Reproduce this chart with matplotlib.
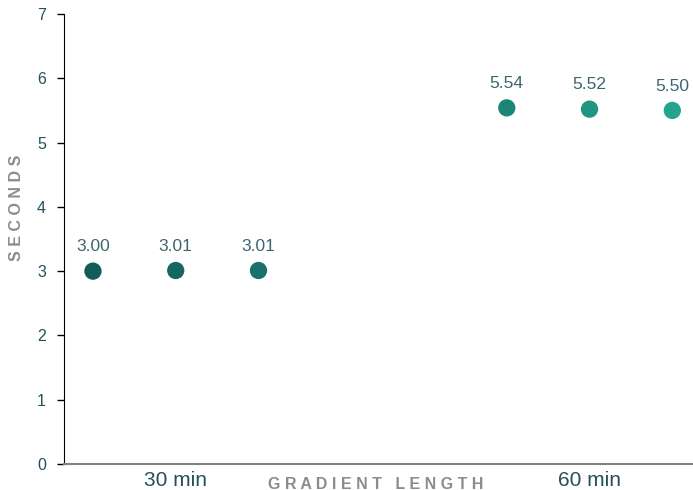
import matplotlib.pyplot as plt

plt.rcParams['font.family'] = ['Liberation Sans', 'DejaVu Sans']

groups = ['30 min', '60 min']
positions = [0, 1, 2, 5, 6, 7]
seconds = [3.00, 3.01, 3.01, 5.54, 5.52, 5.50]
labels = ['3.00', '3.01', '3.01', '5.54', '5.52', '5.50']
colors = ['#135b59', '#166762', '#18716a', '#1c8676', '#209682', '#24a48c']

text_color = '#24505c'
axis_label_color = '#8c8c8c'


def main():
    fig = plt.figure(figsize=(6.93, 4.9), dpi=100)
    ax = fig.add_axes([64 / 693, 26 / 490, 1 - 64 / 693, 450 / 490])

    ax.scatter(positions, seconds, s=155, c=colors, zorder=3, linewidths=0)
    for x, y, t in zip(positions, seconds, labels):
        ax.annotate(t, (x, y), xytext=(0, 12), textcoords='offset points',
                    ha='center', va='bottom', fontsize=12.5, color='#3d6670')

    ax.set_xlim(-0.35, 7.25)
    ax.set_ylim(0, 7)
    ax.set_yticks(range(8))
    ax.set_xticks([1, 6])
    ax.set_xticklabels(groups, fontsize=15, color=text_color)
    ax.tick_params(axis='x', length=0, pad=5)
    ax.tick_params(axis='y', length=5, width=1, labelsize=11.5, colors='black',
                   labelcolor=text_color, pad=8)

    for s in ['top', 'right']:
        ax.spines[s].set_visible(False)
    ax.spines['left'].set_color('black')
    ax.spines['bottom'].set_color('#808080')
    ax.spines['bottom'].set_linewidth(1.5)

    fig.text(376 / 693, 1 - 484 / 490, 'G R A D I E N T   L E N G T H',
             ha='center', va='center', fontsize=11.5, fontweight='bold',
             color=axis_label_color)
    fig.text(17 / 693, 1 - 208 / 490, 'S E C O N D S', rotation=90,
             ha='center', va='center', fontsize=11.5, fontweight='bold',
             color=axis_label_color)

    fig.savefig('out.png', dpi=100)


if __name__ == "__main__":
    main()
